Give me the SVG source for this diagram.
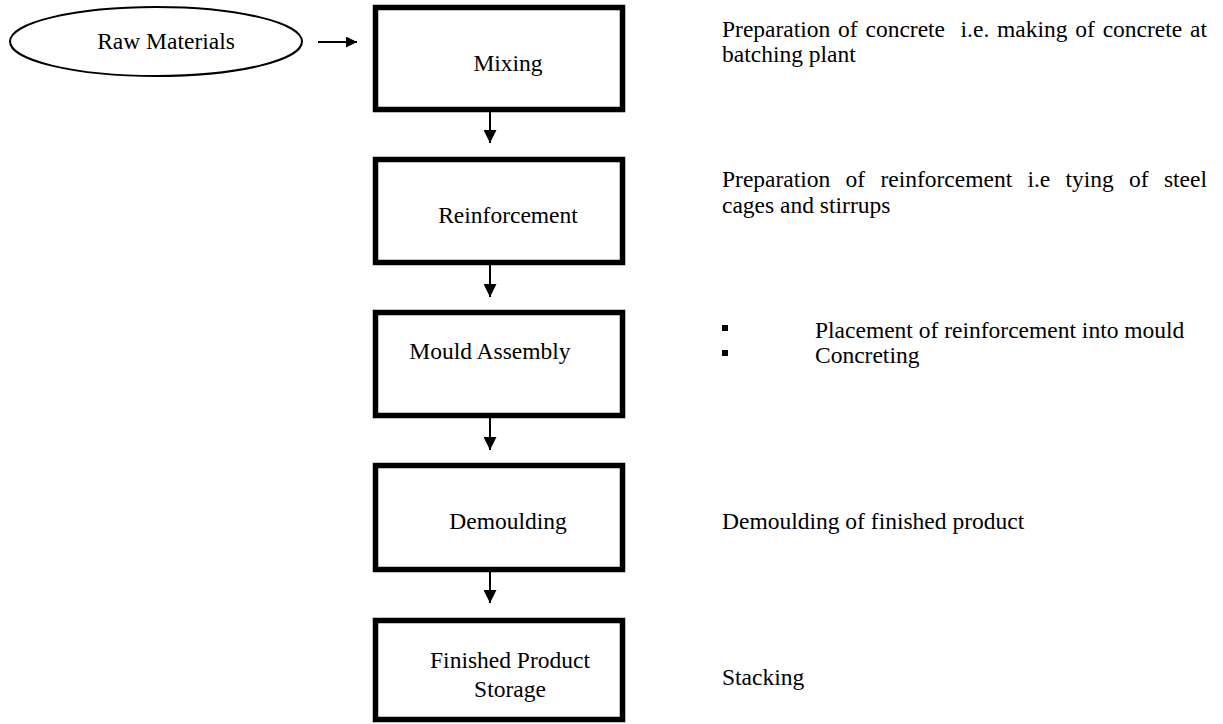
<svg xmlns="http://www.w3.org/2000/svg" width="1223" height="724" viewBox="0 0 1223 724">
  <defs>
    <style>
      text { font-family: "Liberation Serif", "Times New Roman", serif; font-size: 23.5px; fill: #000; }
      .mid { text-anchor: middle; }
      .box { fill: #fff; stroke: #000; stroke-width: 5.5; }
      .oval { fill: #fff; stroke: #000; stroke-width: 2; }
      .link { stroke: #000; stroke-width: 2; fill: none; }
      .bullet { fill: #000; }
    </style>
    <marker id="head" viewBox="0 0 10 10" refX="10" refY="5" markerWidth="11" markerHeight="11" markerUnits="userSpaceOnUse" orient="auto">
      <path d="M0,0 L10,5 L0,10 Z" fill="#000"/>
    </marker>
    <marker id="headv" viewBox="0 0 10 10" refX="10" refY="5" markerWidth="13" markerHeight="13" markerUnits="userSpaceOnUse" orient="auto">
      <path d="M0,0 L10,5 L0,10 Z" fill="#000"/>
    </marker>
  </defs>
  <rect width="1223" height="724" fill="#fff"/>

  <!-- connectors -->
  <g id="connectors">
    <line class="link" x1="318" y1="42" x2="357" y2="42" marker-end="url(#head)"/>
    <line class="link" x1="490" y1="112" x2="490" y2="143" marker-end="url(#headv)"/>
    <line class="link" x1="490" y1="265" x2="490" y2="297" marker-end="url(#headv)"/>
    <line class="link" x1="490" y1="418" x2="490" y2="450" marker-end="url(#headv)"/>
    <line class="link" x1="490" y1="572" x2="490" y2="603" marker-end="url(#headv)"/>
  </g>

  <!-- input -->
  <g id="raw-materials">
    <ellipse class="oval" cx="156" cy="41.5" rx="146" ry="34.5"/>
    <text class="mid" x="166" y="49">Raw Materials</text>
  </g>

  <!-- process steps -->
  <g id="mixing">
    <rect class="box" x="375.5" y="7.5" width="247" height="102"/>
    <text class="mid" x="508" y="71">Mixing</text>
  </g>
  <g id="reinforcement">
    <rect class="box" x="375.5" y="159.5" width="247" height="103"/>
    <text class="mid" x="508" y="223">Reinforcement</text>
  </g>
  <g id="mould-assembly">
    <rect class="box" x="375.5" y="312.5" width="247" height="103"/>
    <text class="mid" x="490" y="359">Mould Assembly</text>
  </g>
  <g id="demoulding">
    <rect class="box" x="375.5" y="465.5" width="247" height="104"/>
    <text class="mid" x="508" y="529">Demoulding</text>
  </g>
  <g id="finished-storage">
    <rect class="box" x="375.5" y="620.5" width="247" height="99"/>
    <text class="mid" x="510" y="668">Finished Product</text>
    <text class="mid" x="510" y="697">Storage</text>
  </g>

  <!-- step notes (first lines justified to the right margin) -->
  <g id="note-mixing">
    <text x="722" y="37" word-spacing="1.9" textLength="485" lengthAdjust="spacing" xml:space="preserve">Preparation of concrete  i.e. making of concrete at</text>
    <text x="722" y="62">batching plant</text>
  </g>
  <g id="note-reinforcement">
    <text x="722" y="187" word-spacing="9.4" textLength="485" lengthAdjust="spacing">Preparation of reinforcement i.e tying of steel</text>
    <text x="722" y="213">cages and stirrups</text>
  </g>
  <g id="note-mould">
    <rect class="bullet" x="722" y="325" width="6" height="6"/>
    <text x="815" y="338">Placement of reinforcement into mould</text>
    <rect class="bullet" x="722" y="350" width="6" height="6"/>
    <text x="815" y="363">Concreting</text>
  </g>
  <g id="note-demoulding">
    <text x="722" y="529">Demoulding of finished product</text>
  </g>
  <g id="note-storage">
    <text x="722" y="685">Stacking</text>
  </g>
</svg>
